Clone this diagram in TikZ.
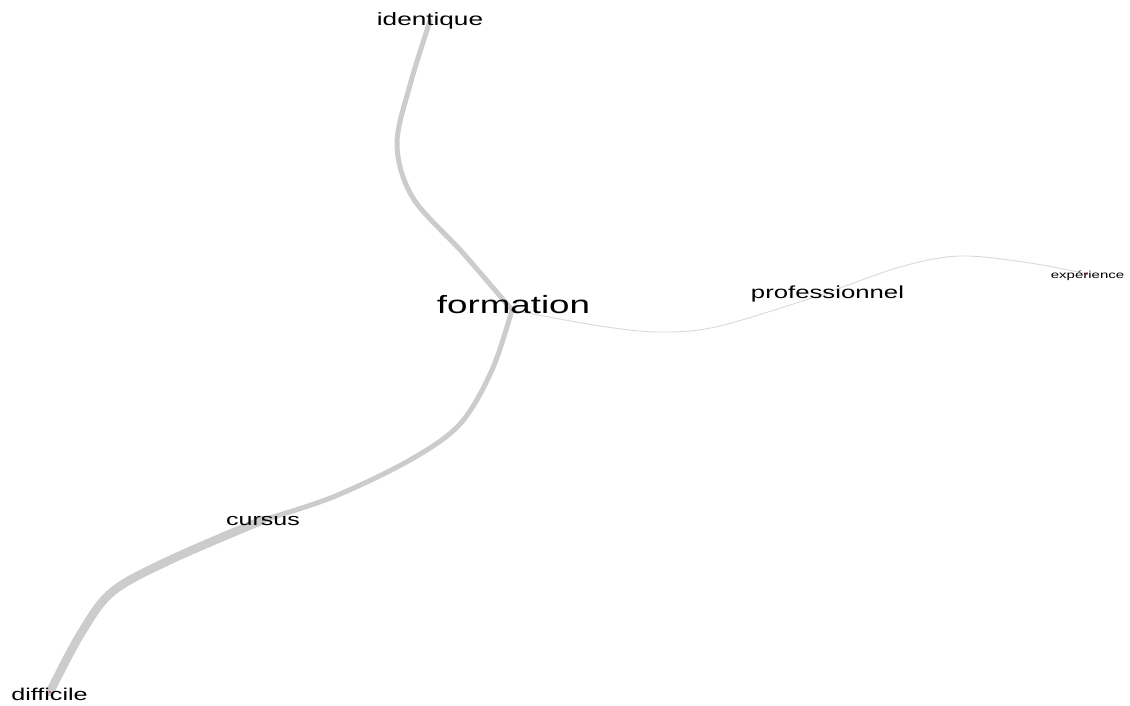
\documentclass[tikz,border=0pt]{standalone}
\usepackage{fontspec}
\setmainfont{Liberation Sans}
\newcommand{\wlab}[2]{\scalebox{1.47}[1]{\fontsize{#1}{#1}\selectfont #2}}
\tikzset{
  edgethick/.style={draw=black!20, line width=5pt, line cap=round},
  edgeheavy/.style={draw=black!20, line width=8.5pt, line cap=round},
  edgethin/.style={draw=black!15, line width=0.9pt},
  vdot/.style={circle, fill=red!70!black, inner sep=0pt, minimum size=1.8pt},
  wordlab/.style={inner sep=0pt, anchor=base, text=black}
}
\begin{document}
\begin{tikzpicture}[x=1pt,y=-1pt]
\useasboundingbox (0,0) rectangle (1130,706);
% vertices
\coordinate (vI) at (430,21);
\coordinate (vF) at (512,310);
\coordinate (vC) at (263,520);
\coordinate (vD) at (50,692);
\coordinate (vP) at (827,293);
\coordinate (vE) at (1087,274);
% edges
\draw[edgethick] plot[smooth,tension=0.55] coordinates {(vI) (410,85) (397,145) (413,198) (463,253) (vF)};
\draw[edgethick] plot[smooth,tension=0.55] coordinates {(vF) (492,370) (460,424) (410,460) (333,497) (vC)};
\draw[edgeheavy] plot[smooth,tension=0.55] coordinates {(vC) (170,560) (112,592) (80,635) (vD)};
\draw[edgethin] plot[smooth,tension=0.55] coordinates {(vF) (600,326) (660,332) (720,326) (vP)};
\draw[edgethin] plot[smooth,tension=0.55] coordinates {(vP) (900,267) (960,256) (1030,263) (vE)};
% vertex dots
\foreach \v in {vI,vF,vC,vD,vP,vE} \node[vdot] at (\v) {};
% labels
\node[wordlab] (lI) at (430,26) {\wlab{17.8}{identique}};
\node[wordlab] (lF) at (513.5,313) {\wlab{25}{formation}};
\node[wordlab] (lC) at (263,525) {\wlab{17}{cursus}};
\node[wordlab] (lD) at (49.5,700) {\wlab{17.1}{difficile}};
\node[wordlab] (lP) at (827.5,298) {\wlab{17.5}{professionnel}};
\node[wordlab] (lE) at (1087.5,278) {\wlab{10.2}{expérience}};
\end{tikzpicture}
\end{document}
